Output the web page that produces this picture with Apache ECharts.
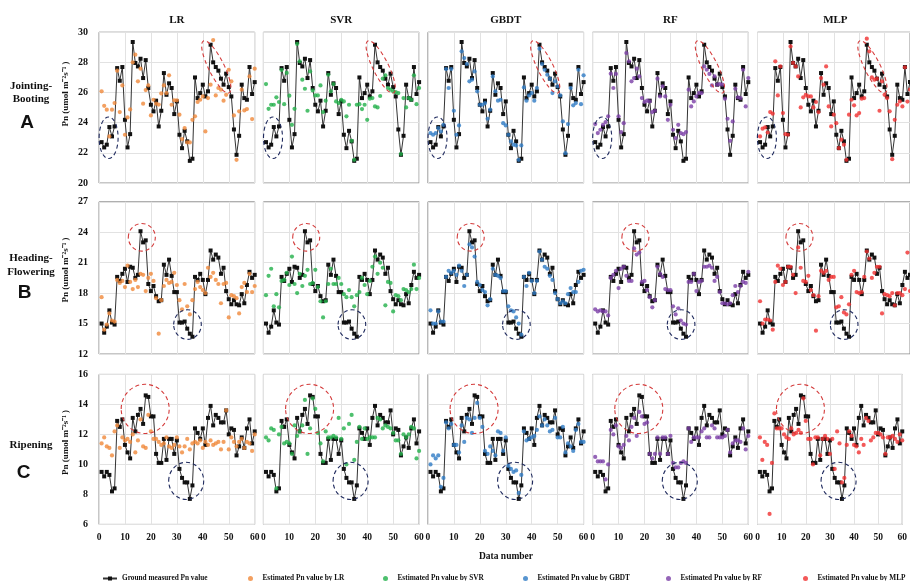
<!DOCTYPE html>
<html><head><meta charset="utf-8">
<script src="https://cdn.jsdelivr.net/npm/echarts@6/dist/echarts.min.js"></script>
<style>html,body{margin:0;padding:0;background:#fff}#c{width:910px;height:581px}</style>
</head><body><div id="c"></div>
<script>
const dataNumber=[1,2,3,4,5,6,7,8,9,10,11,12,13,14,15,16,17,18,19,20,21,22,23,24,25,26,27,28,29,30,31,32,33,34,35,36,37,38,39,40,41,42,43,44,45,46,47,48,49,50,51,52,53,54,55,56,57,58,59,60];
const models=['LR','SVR','GBDT','RF','MLP'];
const modelColors=['#f0883a','#22b04a','#2e7bc4','#7a3fa6','#f03030'];
const xTicks=[0,10,20,30,40,50,60];
const stageLines=[['Jointing-','Booting'],['Heading-','Flowering'],['Ripening']];
const stageLetters=['A','B','C'];
const yMinA=20,yMaxA=30,yStepA=2;
const yMinB=12,yMaxB=27,yStepB=3;
const yMinC=6,yMaxC=16,yStepC=2;

const groundA=[22.71,22.36,22.54,23.71,23.09,23.75,27.62,26.78,27.69,24.19,22.36,23.24,29.35,27.96,27.73,28.24,26.96,28.15,26.30,25.19,24.75,25.46,23.75,24.79,27.29,25.85,26.61,26.30,24.57,25.41,23.20,22.31,23.46,22.76,21.47,21.61,27.00,25.63,25.96,26.52,25.74,26.08,29.17,28.00,27.69,27.45,26.92,26.52,27.25,26.36,25.74,23.55,21.87,23.13,26.52,25.63,25.52,27.69,25.90,26.69];
const lrA=[26.08,25.12,24.86,23.09,24.86,25.30,27.45,24.70,26.47,23.20,24.35,24.88,28.00,28.51,26.74,27.58,25.26,26.16,26.47,24.48,25.52,25.26,25.20,25.94,26.47,25.96,27.14,25.19,25.48,25.48,24.53,22.91,23.64,22.69,22.69,24.19,24.42,25.37,25.52,25.74,23.42,25.63,26.52,29.48,25.81,26.30,26.19,25.46,25.85,27.51,26.74,24.48,21.54,24.75,26.19,24.81,24.90,27.07,24.24,27.58];
const svrA=[26.56,24.92,25.19,25.19,25.68,25.37,27.50,25.23,27.30,25.79,23.86,24.92,29.22,28.07,26.85,26.25,24.79,27.40,26.14,25.81,25.81,26.47,24.70,25.46,27.18,26.08,26.56,25.41,25.30,25.52,25.41,24.42,25.19,22.80,21.54,25.19,25.23,24.90,25.19,24.19,25.59,25.63,25.08,25.01,25.77,26.92,27.14,26.30,26.19,26.08,26.03,25.96,21.92,25.63,25.01,25.63,25.52,27.14,25.23,26.30];
const gbdtA=[23.31,23.20,23.31,23.64,23.42,23.86,27.56,26.30,27.56,24.79,23.20,23.82,28.73,28.29,27.89,26.74,26.85,27.40,26.08,25.19,25.19,25.30,24.26,24.86,27.07,26.08,25.46,25.52,23.97,23.82,23.20,22.76,22.54,22.49,21.54,22.49,26.34,25.46,25.81,25.96,25.46,26.30,28.91,27.89,27.51,27.18,26.92,25.96,26.74,26.41,25.81,24.08,21.98,23.91,26.30,25.15,25.30,27.51,25.23,27.14];
const rfA=[23.91,23.31,23.53,23.86,24.04,24.42,27.25,26.30,27.23,24.42,23.38,23.97,28.62,28.07,26.74,26.96,27.58,27.07,25.63,25.37,25.46,25.41,24.70,24.79,26.92,25.74,26.41,25.74,24.19,25.19,23.53,22.98,23.86,23.31,23.24,23.38,26.19,25.08,25.41,25.74,25.96,25.96,27.73,27.51,27.23,26.47,27.07,26.52,26.56,26.52,25.59,24.26,22.80,24.08,26.25,25.68,25.63,27.51,25.08,26.96];
const mlpA=[23.09,23.60,23.69,23.35,24.70,24.60,28.07,25.81,27.73,24.64,23.24,23.20,29.06,27.96,27.73,27.07,25.01,25.68,25.85,25.74,25.74,25.01,25.37,24.70,26.96,26.52,27.73,25.08,23.75,24.53,23.97,22.31,22.87,22.54,21.54,24.53,25.52,25.15,24.48,24.64,25.59,25.63,29.57,28.73,27.00,26.85,26.92,24.79,26.74,25.85,25.63,24.75,21.58,24.19,25.19,25.41,25.08,27.67,25.40,26.20];

const groundB=[15.0,14.1,14.7,16.3,15.1,14.9,19.6,19.2,19.9,20.4,19.1,20.6,20.5,19.5,19.8,24.1,23.0,23.2,18.9,18.2,18.7,17.7,17.2,17.3,20.8,19.8,21.3,19.7,18.1,18.1,15.1,15.1,15.2,14.5,14.0,13.7,19.6,19.3,19.9,19.3,17.9,19.3,22.2,21.3,21.8,21.5,19.9,20.5,18.2,17.4,16.9,17.3,16.9,16.8,17.9,17.0,18.8,20.1,19.5,19.8];
const lrB=[17.6,14.4,14.9,16.0,15.3,15.2,19.3,19.0,19.2,18.6,20.7,19.1,18.4,19.3,18.6,19.9,19.8,18.2,19.5,19.9,19.2,17.5,14.0,17.3,18.7,19.3,19.0,19.1,20.0,18.8,17.3,16.4,18.9,16.7,15.9,17.3,18.4,19.1,18.6,18.3,18.0,20.5,19.6,20.0,19.3,18.9,17.0,18.9,19.0,15.6,17.8,17.7,17.5,16.0,18.6,19.0,18.1,19.9,18.1,18.7];
const svrB=[17.8,19.7,20.4,16.7,17.9,16.6,19.2,19.3,20.0,18.8,21.6,18.9,18.0,19.9,18.7,19.7,20.3,18.9,19.0,20.3,18.6,17.2,15.6,17.2,18.9,20.4,18.9,18.9,19.5,18.9,17.9,17.6,18.3,17.6,16.7,17.8,18.1,19.5,18.8,17.9,19.2,20.6,21.6,19.9,21.0,20.5,16.8,19.1,19.0,16.2,17.8,17.7,17.3,18.4,18.3,18.1,18.4,20.8,18.4,19.5];
const gbdtB=[16.3,15.0,15.0,16.2,15.2,15.2,19.6,20.2,20.0,20.2,19.8,20.7,20.2,18.7,19.8,22.8,22.5,21.6,19.1,18.8,18.3,18.1,16.8,17.4,20.4,19.8,19.7,19.5,18.2,18.2,16.7,16.3,16.2,15.6,15.0,13.9,19.6,18.7,20.0,19.2,18.0,19.2,22.1,21.3,20.6,20.4,19.7,19.3,18.0,17.4,17.0,17.2,17.0,17.9,18.5,18.1,18.1,19.1,20.2,20.3];
const rfB=[16.4,16.2,16.3,16.2,16.2,15.8,19.5,19.8,20.2,18.5,20.4,20.6,19.7,19.2,19.2,22.4,21.8,22.0,19.1,19.2,18.3,17.6,16.6,17.3,20.6,19.9,19.6,18.4,18.3,18.3,16.7,15.9,16.5,15.3,15.0,14.9,19.1,19.1,19.9,18.2,19.1,19.2,20.6,20.6,20.7,20.5,19.2,19.6,18.1,17.0,17.0,16.9,17.0,17.8,18.7,18.1,18.7,19.1,19.0,20.1];
const mlpB=[17.2,15.0,15.4,15.4,15.3,14.4,19.1,20.7,20.4,18.8,19.1,20.6,20.6,19.8,18.0,22.5,20.5,19.2,19.1,19.7,18.3,17.8,14.3,17.7,20.2,20.0,20.2,19.3,19.6,19.6,16.6,16.7,17.6,16.1,15.9,16.9,19.8,20.2,18.1,18.0,18.1,19.6,22.1,21.4,19.5,20.0,20.6,20.6,16.0,17.9,17.8,17.7,18.0,16.8,18.0,18.0,17.8,18.4,22.0,18.2];

const groundC=[9.5,9.2,9.5,9.3,8.2,8.4,12.9,12.5,13.0,11.3,10.8,10.4,13.1,12.2,13.3,13.7,12.7,14.6,14.5,13.2,13.2,10.7,10.1,10.1,11.7,10.3,11.7,11.7,10.7,11.6,9.7,9.1,8.8,8.8,7.7,8.6,12.4,12.1,11.7,12.4,11.3,13.1,13.9,12.6,13.3,13.1,12.8,12.8,13.6,12.0,12.4,12.3,10.6,11.2,11.8,11.1,12.4,13.0,11.4,12.2];
const lrC=[11.4,11.8,11.2,11.1,10.6,12.2,12.6,11.1,11.8,11.6,11.7,11.5,12.0,10.8,11.6,13.0,11.2,11.1,13.3,12.2,11.7,11.7,11.5,11.3,11.4,11.8,11.2,11.1,11.3,11.8,11.2,10.8,11.2,11.7,11.0,11.4,11.5,11.4,11.6,11.1,11.5,11.3,11.6,11.3,11.4,11.5,11.0,11.5,13.6,11.0,11.8,11.5,11.2,11.5,11.7,11.1,11.5,11.4,10.9,12.0];
const svrC=[11.8,11.6,12.4,12.3,8.4,12.0,12.5,11.4,11.5,11.4,10.7,12.6,11.9,12.2,12.6,14.3,10.7,12.4,14.4,13.7,12.1,11.4,10.2,12.2,11.8,11.8,11.9,11.8,13.1,11.7,12.4,10.0,12.7,13.3,10.3,11.5,12.5,11.7,12.4,11.7,11.8,11.8,11.8,13.1,13.0,12.4,12.6,12.5,12.4,12.1,11.6,11.6,10.7,12.0,11.8,12.0,12.5,12.4,10.4,10.9];
const gbdtC=[10.0,10.6,10.4,10.6,8.5,9.1,12.8,12.4,12.7,11.3,11.3,10.8,12.6,11.5,13.1,13.0,12.1,13.1,14.1,13.1,12.5,10.9,10.7,11.2,10.9,10.6,12.2,12.1,10.9,11.8,9.9,9.7,9.5,9.6,8.1,9.3,12.2,11.6,11.7,11.8,11.9,12.3,13.2,12.6,13.0,12.6,12.2,12.3,13.1,11.8,11.8,12.5,10.8,11.4,11.2,10.9,12.3,12.7,11.5,11.5];
const rfC=[10.5,10.2,10.2,10.2,9.0,10.0,12.3,12.0,12.6,11.2,11.1,11.3,11.9,11.6,12.5,13.1,11.9,13.5,13.2,12.7,12.8,10.7,10.4,10.7,11.8,10.7,11.8,11.8,10.7,11.9,10.1,9.8,9.8,10.1,10.2,10.1,12.4,11.5,11.8,11.8,11.8,12.2,12.4,11.8,11.8,12.6,12.4,11.8,11.8,11.8,11.9,12.3,10.8,11.4,11.6,11.6,11.5,12.4,11.0,11.9];
const mlpC=[11.8,10.3,11.5,11.3,6.7,10.1,13.4,12.4,12.4,12.4,12.0,11.8,11.7,12.4,12.0,12.1,12.3,12.1,14.4,12.9,11.7,11.7,10.0,11.8,11.8,10.6,11.7,11.9,11.7,10.7,11.7,9.7,12.2,11.4,8.8,9.1,11.3,12.2,11.9,11.3,11.2,10.8,11.7,11.3,13.1,12.9,11.6,11.8,12.1,12.1,12.0,11.8,10.7,11.8,11.8,11.9,11.7,11.5,12.0,11.6];

// annotation ellipses, centred in data coordinates
const ellipsesA=[{x:3.7,y:23.0,rx:9.5,ry:20.8,rot:0,color:'#1f2a5e'},{x:45.2,y:27.7,rx:7.8,ry:29,rot:0.46,color:'#d43a3a'}];
const ellipsesB=[{x:16.5,y:23.5,rx:13.5,ry:13.8,rot:0,color:'#d43a3a'},{x:34.1,y:14.9,rx:13.8,ry:14.8,rot:0,color:'#1f2a5e'}];
const ellipsesC=[{x:17.8,y:13.7,rx:24,ry:24.6,rot:0,color:'#d43a3a'},{x:33.6,y:8.9,rx:17.5,ry:18.6,rot:0,color:'#1f2a5e'}];

const rows=[
  {ground:groundA,est:[lrA,svrA,gbdtA,rfA,mlpA],min:yMinA,max:yMaxA,step:yStepA,ell:ellipsesA},
  {ground:groundB,est:[lrB,svrB,gbdtB,rfB,mlpB],min:yMinB,max:yMaxB,step:yStepB,ell:ellipsesB},
  {ground:groundC,est:[lrC,svrC,gbdtC,rfC,mlpC],min:yMinC,max:yMaxC,step:yStepC,ell:ellipsesC}
];

const SERIF='"Liberation Serif","Times New Roman",serif';
const colLeft=[99,263.4,427.9,592.6,757.5];
const colW=155.7;
const rowTop=[32.2,201.8,374.4];
const rowH=[150.8,152.2,150];
const groundName='Ground measured Pn value';

const chart=echarts.init(document.getElementById('c'),null,{renderer:'canvas'});
const grid=[],xAxis=[],yAxis=[],series=[];
rows.forEach((row,r)=>{
  models.forEach((m,c)=>{
    const idx=r*5+c;
    grid.push({left:colLeft[c],top:rowTop[r],width:colW,height:rowH[r],show:true,borderColor:'#8e8e8e',borderWidth:1,containLabel:false});
    xAxis.push({type:'value',gridIndex:idx,min:xTicks[0],max:xTicks[xTicks.length-1],interval:10,
      axisLine:{show:false},axisTick:{show:false},
      splitLine:{show:true,lineStyle:{color:'#e2e2e2',width:1}},
      axisLabel:{show:r===2,fontFamily:SERIF,fontWeight:'bold',fontSize:9.5,color:'#111',margin:8}});
    yAxis.push({type:'value',gridIndex:idx,min:row.min,max:row.max,interval:row.step,
      axisLine:{show:false},axisTick:{show:false},
      splitLine:{show:true,lineStyle:{color:'#e2e2e2',width:1}},
      axisLabel:{show:c===0,fontFamily:SERIF,fontWeight:'bold',fontSize:10,color:'#111',margin:11}});
    series.push({type:'line',name:groundName,xAxisIndex:idx,yAxisIndex:idx,
      data:dataNumber.map((d,i)=>[d,row.ground[i]]),
      symbol:'rect',symbolSize:4,showSymbol:true,
      itemStyle:{color:'#111'},lineStyle:{color:'#333',width:1},z:2,animation:false});
    series.push({type:'scatter',name:'Estimated Pn value by '+m,xAxisIndex:idx,yAxisIndex:idx,
      data:dataNumber.map((d,i)=>[d,row.est[c][i]]),
      symbol:'circle',symbolSize:4.2,itemStyle:{color:modelColors[c]},z:3,animation:false});
  });
});

const legendLeft=[97,243,378,518,661,798];
const legendNames=[groundName].concat(models.map(m=>'Estimated Pn value by '+m));
const legend=legendNames.map((n,i)=>({data:[n],left:legendLeft[i],top:570,itemWidth:14,itemHeight:5,itemGap:5,
  textStyle:{fontFamily:SERIF,fontWeight:'bold',fontSize:7.3,color:'#111'},selectedMode:false}));

chart.setOption({animation:false,backgroundColor:'#fff',grid,xAxis,yAxis,series,legend});

// texts and annotation ellipses
const g=[];
models.forEach((m,c)=>{
  g.push({type:'text',x:colLeft[c]+colW/2,y:20,style:{text:m,fontFamily:SERIF,fontWeight:'bold',fontSize:11,fill:'#111',textAlign:'center',textVerticalAlign:'middle'}});
});
const stageY=[[86,99],[258,271.7],[445]];
const letterY=[123,292.7,472.7];
const letterX=[27,24.5,23.7];
const nameY=[94,270,442.5];
stageLines.forEach((lines,r)=>{
  lines.forEach((t,k)=>{
    g.push({type:'text',x:31,y:stageY[r][k],style:{text:t,fontFamily:SERIF,fontWeight:'bold',fontSize:11,fill:'#111',textAlign:'center',textVerticalAlign:'middle'}});
  });
  g.push({type:'text',x:letterX[r],y:letterY[r],style:{text:stageLetters[r],fontFamily:'"Liberation Sans",Arial,sans-serif',fontWeight:'bold',fontSize:19,fill:'#111',textAlign:'center',textVerticalAlign:'middle'}});
  g.push({type:'text',x:66,y:nameY[r],rotation:Math.PI/2,style:{text:'Pn (umol m⁻²s⁻¹ )',fontFamily:SERIF,fontWeight:'bold',fontSize:9,fill:'#111',textAlign:'center',textVerticalAlign:'middle'}});
});
g.push({type:'text',x:506,y:557,style:{text:'Data number',fontFamily:SERIF,fontWeight:'bold',fontSize:9.5,fill:'#111',textAlign:'center',textVerticalAlign:'middle'}});
rows.forEach((row,r)=>{
  models.forEach((m,c)=>{
    const idx=r*5+c;
    row.ell.forEach(e=>{
      const p=chart.convertToPixel({gridIndex:idx},[e.x,e.y]);
      g.push({type:'ellipse',x:p[0],y:p[1],rotation:e.rot,silent:true,z:10,
        shape:{cx:0,cy:0,rx:e.rx,ry:e.ry},
        style:{fill:'none',stroke:e.color,lineWidth:1.1,lineDash:[4,3]}});
    });
  });
});
chart.setOption({graphic:g});
</script></body></html>
